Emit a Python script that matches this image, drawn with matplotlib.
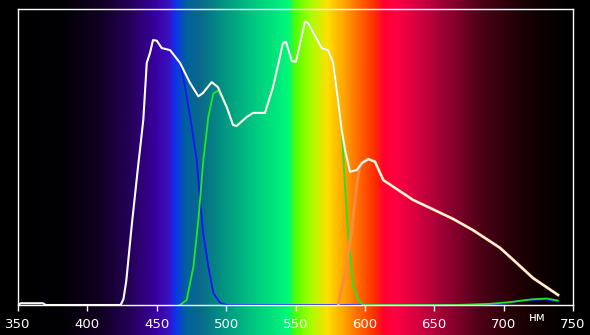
import numpy as np
import matplotlib
matplotlib.use('Agg')
import matplotlib.pyplot as plt
from matplotlib.colors import LinearSegmentedColormap

# total spectrum (white trace), wavelength in nm / relative level in %
white_wl = [350, 352, 368, 370, 424, 426, 428, 432, 436.5, 440.3, 442.8, 445.1, 447.3,
            450, 453.6, 459.6, 466.8, 474, 480, 483.3, 489.6, 494.1, 500.4, 505,
            507.6, 514.8, 519.4, 528, 533.8, 541, 543.2, 547.3, 550.4, 556.8, 559,
            568.9, 573.4, 577, 580.6, 583.3, 585.7, 589.3, 594.1, 598, 602.5, 607.3,
            613.3, 634.7, 646.9, 663.5, 677.9, 697.4, 709.4, 721.2, 739.2]
white_val = [0, 0.6, 0.6, 0, 0, 2, 8, 27, 46.6, 62.5, 81.8, 85.1, 89.5,
             89.3, 86.8, 86.1, 81.8, 75, 70.5, 71.6, 75.3, 73.6, 66.9, 60.8,
             60.5, 63.5, 64.9, 64.9, 73.6, 88.5, 88.9, 82.4, 82.2, 95.7, 95.3,
             86.8, 86.1, 82.1, 69.3, 59.1, 52.4, 45, 45.6, 48, 49.3, 48.4,
             42.2, 35.5, 32.8, 29.1, 25.3, 19.3, 14.2, 9.1, 3.4]

# blue channel: follows the total up to ~467 nm
blue_tail_wl = [470.4, 475.2, 478.8, 481.2, 483.5, 487.2, 490.8, 495.6, 500, 700, 701, 716.6, 731, 739]
blue_tail_val = [73.8, 60.2, 49, 35.5, 24.3, 12.9, 4, 0.8, 0, 0, 0.6, 1.7, 1.9, 1.1]

# green channel: rises near 467 nm, follows the total 500-583 nm
green_head_wl = [466.8, 471.6, 476.4, 480, 483.6, 487.2, 490.8, 494.4]
green_head_val = [0, 1.7, 12.9, 28.7, 49, 63.6, 71.5, 72.5]
green_tail_wl = [585.7, 588.1, 591.7, 595.3, 598.9, 666, 690, 705, 720, 731, 739]
green_tail_val = [40, 23, 6.2, 1.7, 0, 0, 0.4, 1.0, 1.9, 2.2, 1.5]

# red channel: rises near 581 nm, then follows the total
red_head_wl = [580.8, 585.7, 590.5, 594, 596]
red_head_val = [0, 10.8, 25.3, 40, 46.5]

ticks = [350, 400, 450, 500, 550, 600, 650, 700, 750]

# background spectrum colours
spec_wl = [350, 380, 409, 431, 449, 458, 463, 470, 481, 503, 524, 545, 550,
           560, 573, 586, 596, 607, 614, 622, 640, 661, 683, 705, 726, 748, 750]
spec_col = ['#000000', '#020004', '#100022', '#25005a', '#3800a0', '#3a10c0', '#1030f0',
            '#0060a0', '#0a6a8a', '#00a080', '#00d080', '#00f878', '#50ff00',
            '#a0ff00', '#ffe000', '#ffa000', '#ff6800', '#ff3000', '#ff0030', '#ff0040',
            '#d00040', '#900030', '#500018', '#280008', '#100000', '#000000', '#000000']

wl_w = np.array(white_wl)
val_w = np.array(white_val)

blue_wl = [w for w in white_wl if 420 <= w <= 466.8] + blue_tail_wl
blue_val = [v for w, v in zip(white_wl, white_val) if 420 <= w <= 466.8] + blue_tail_val
mid = (wl_w > 494.4) & (wl_w < 585)
green_wl = green_head_wl + list(wl_w[mid]) + green_tail_wl
green_val = green_head_val + list(val_w[mid]) + green_tail_val
red_wl = red_head_wl + list(wl_w[wl_w >= 598])
red_val = red_head_val + list(val_w[wl_w >= 598])

fig = plt.figure(figsize=(5.9, 3.35), dpi=100, facecolor='black')
ax = fig.add_axes([18 / 590, 30 / 335, 555 / 590, 296 / 335])
ax.set_facecolor('black')

pos = [(w - 350) / 400 for w in spec_wl]
cmap = LinearSegmentedColormap.from_list('spec', list(zip(pos, spec_col)))
ax.imshow(np.linspace(0, 1, 800)[None, :], cmap=cmap, aspect='auto',
          extent=[350, 750, -10.2, 103.1], clip_on=False, zorder=0, interpolation='bilinear')

ax.plot(blue_wl, blue_val, color='#1414ff', lw=1.3, zorder=3)
ax.plot(green_wl, green_val, color='#22e622', lw=1.3, zorder=3)
ax.plot(red_wl, red_val, color='#ff8c3a', lw=2.1, zorder=4)
ax.plot(white_wl, white_val, color='#fffaf2', lw=1.5, zorder=5)

ax.set_xlim(350, 750)
ax.set_ylim(0, 100)
ax.set_yticks([])
ax.set_xticks(ticks)
ax.tick_params(axis='x', colors='white', length=4, width=1, pad=5, labelsize=9.5)
for s in ax.spines.values():
    s.set_color('white')
    s.set_linewidth(1)
    s.set_zorder(6)

ax.text(724, -4.2, 'нм', color='white', fontsize=8.5, ha='center', va='center', clip_on=False)

fig.savefig('out.png', dpi=100, facecolor='black')
